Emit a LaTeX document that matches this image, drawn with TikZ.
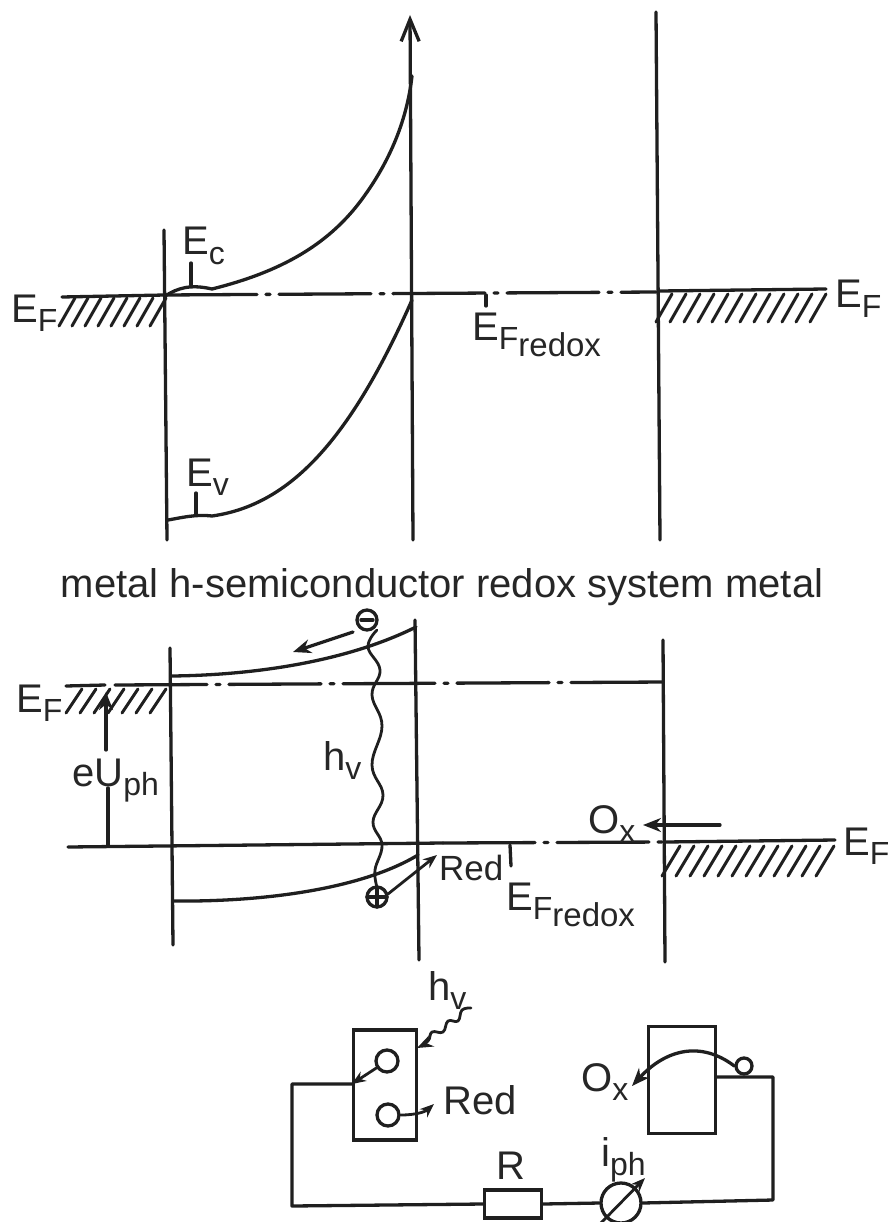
\documentclass[tikz,border=0pt]{standalone}
\usepackage{fontspec}
\setmainfont{Liberation Sans}
\usetikzlibrary{arrows.meta}
\newcommand{\lbsub}[1]{\raisebox{-0.24em}{\fontsize{32}{32}\selectfont #1}}
\newcommand{\lbsubb}[1]{\raisebox{-0.2em}{\fontsize{33}{33}\selectfont #1}}
\tikzset{
  ink/.style={line width=3.3pt,draw=black!88,line cap=round,line join=round},
  thin ink/.style={ink,line width=2.8pt},
  lbl/.style={inner sep=0pt,text=black!85,font=\fontsize{40}{44}\selectfont},
  dashdot/.style={ink,dash pattern=on 92pt off 9pt on 4pt off 9pt},
  arr/.style={ink,-{Stealth[length=18pt,width=14pt]}},
  smallarr/.style={thin ink,-{Stealth[length=14pt,width=11pt]}},
  hatchline/.style={line width=3pt,draw=black!88,line cap=round},
  boxed/.style={draw=black!88,line width=3.3pt,inner sep=0pt},
}
\begin{document}
\begin{tikzpicture}[x=1pt,y=-1pt]
\useasboundingbox (0,0) rectangle (890,1222);
\clip (0,0) rectangle (890,1222);
% ---------- top diagram
\draw[ink] (164,230) -- (167,540);
\draw[ink,-{Straight Barb[length=22pt,width=18pt]}] (413,540) -- (410,15);
\draw[ink] (656,12) -- (660,540);
\draw[ink] (62,297) -- (165,295);
\draw[dashdot] (165,295) -- (656,292);
\draw[ink] (660,291) -- (826,289);
\foreach \x in {75,88,...,166} \draw[hatchline] (\x,298) -- ({\x-16},326);
\foreach \x in {672,686,...,835} \draw[hatchline] (\x,294) -- ({\x-16},322);
\draw[ink] (165,296) .. controls (178,288) and (190,284) .. (212,289)
  .. controls (280,272) and (330,245) .. (365,195)
  .. controls (390,160) and (407,120) .. (412,76);
\draw[ink] (168,520) .. controls (180,518) and (195,514) .. (212,516)
  .. controls (290,505) and (350,440) .. (412,300);
\draw[ink] (191,263) -- (191,285);
\draw[ink] (196,493) -- (196,515);
\draw[ink] (486,295) -- (486,306);
\node[lbl,anchor=base west] (efa) at (11,322) {E\lbsub{F}};
\node[lbl,anchor=base west] (ec) at (182,255) {E\lbsub{c}};
\node[lbl,anchor=base west] (ev) at (186,486) {E\lbsub{v}};
\node[lbl,anchor=base west] (efr) at (472,340) {E\lbsub{F\lbsubb{redox}}};
\node[lbl,anchor=base west] (efb) at (835,308) {E\lbsub{F}};
\node[lbl,anchor=base] (layers) at (442,597) {metal h-semiconductor redox system metal};
% ---------- middle diagram
\draw[ink] (170,648) -- (173,945);
\draw[ink] (415,620) -- (419,960);
\draw[ink] (663,640) -- (665,962);
\draw[ink] (172,676) .. controls (260,675) and (350,660) .. (416,627);
\draw[ink] (173,901) .. controls (260,902) and (360,890) .. (418,855);
\draw[ink] (66,686) -- (105,685);
\draw[dashdot] (115,685) -- (665,682);
\foreach \x in {82,96,...,170} \draw[hatchline] (\x,689) -- ({\x-16},713);
\draw[arr] (106,750) -- (106,692);
\draw[ink] (108,788) -- (108,846);
\draw[ink] (68,847) -- (443,843);
\draw[dashdot] (443,843) -- (665,842);
\draw[ink] (665,842) -- (835,840);
\foreach \x in {680,694,...,835} \draw[hatchline] (\x,846) -- ({\x-18},876);
\draw[thin ink] plot[smooth,tension=0.7] coordinates {(377,630) (368,647) (380,670) (372,695) (382,726) (372,765) (383,795) (373,822) (382,845) (375,870) (377,887)};
\draw[ink] (367,620) circle (10);
\draw[ink] (361,620) -- (373,620);
\draw[ink] (377,897) circle (10);
\draw[ink] (367,897) -- (387,897) (377,887) -- (377,907);
\draw[arr] (353,632) -- (293,652);
\draw[smallarr] (388,894) -- (437,855);
\draw[ink] (510,845) -- (511,866);
\draw[arr] (720,825) -- (643,825);
\node[lbl,anchor=base west] (efc) at (16,712) {E\lbsub{F}};
\node[lbl,anchor=base west] (eu) at (72,786) {eU\lbsub{ph}};
\node[lbl,anchor=base west] (hv) at (323,770) {h\lbsub{v}};
\node[lbl,anchor=base west,font=\fontsize{35}{40}\selectfont] (red) at (439,880) {Red};
\node[lbl,anchor=base west] (efr2) at (506,910) {E\lbsub{F\lbsubb{redox}}};
\node[lbl,anchor=base west] (ox) at (588,833) {O\lbsub{x}};
\node[lbl,anchor=base west] (efd) at (843,855) {E\lbsub{F}};
% ---------- circuit
\node[boxed,minimum width=63pt,minimum height=110pt] (cell) at (385,1085) {};
\node[boxed,minimum width=67pt,minimum height=107pt] (cath) at (682,1080) {};
\node[boxed,minimum width=57pt,minimum height=28pt] (res) at (513,1204) {};
\node[boxed,circle,minimum size=40pt] (meter) at (621,1203) {};
\coordinate (w1) at (292,1084);
\coordinate (w2) at (292,1206);
\coordinate (w3) at (773,1200);
\coordinate (w4) at (773,1077);
\draw[ink] (cell.west |- w1) -- (w1) -- (w2) -- (res.west);
\draw[ink] (res.east) -- (meter.west);
\draw[ink] (meter.east) -- (w3) -- (w4) -- (cath.east |- w4);
\draw[thin ink,-{Stealth[length=14pt,width=11pt]}] (598,1226) -- (645,1178);
\node[boxed,circle,minimum size=22pt] (c1) at (387,1061) {};
\node[boxed,circle,minimum size=22pt] (c2) at (388,1115) {};
\node[boxed,circle,minimum size=16pt] (c3) at (744,1066) {};
\node[lbl,anchor=base west] (hv2) at (428,1000) {h\lbsub{v}};
\node[lbl,anchor=base west] (red2) at (443,1114) {Red};
\node[lbl,anchor=base west] (ox2) at (581,1091) {O\lbsub{x}};
\node[lbl,anchor=base] (r) at (511,1179) {R};
\node[lbl,anchor=base west] (iph) at (601,1166) {i\lbsub{ph}};
\coordinate (redtip) at (434,1104);
\coordinate (oxtip) at (632,1086);
\draw[smallarr] (c1) -- (cell.west |- w1);
\draw[smallarr] (c2.east) .. controls (415,1115) and (425,1112) .. (redtip);
\draw[arr] (c3.west) .. controls (700,1040) and (665,1050) .. (oxtip);
\draw[thin ink,-{Stealth[length=16pt,width=12pt]}] plot[smooth,tension=0.7] coordinates {(471,1008) (462,1010) (458,1021) (448,1021) (443,1032) (432,1032) (428,1041) (417,1048)};
\end{tikzpicture}
\end{document}
